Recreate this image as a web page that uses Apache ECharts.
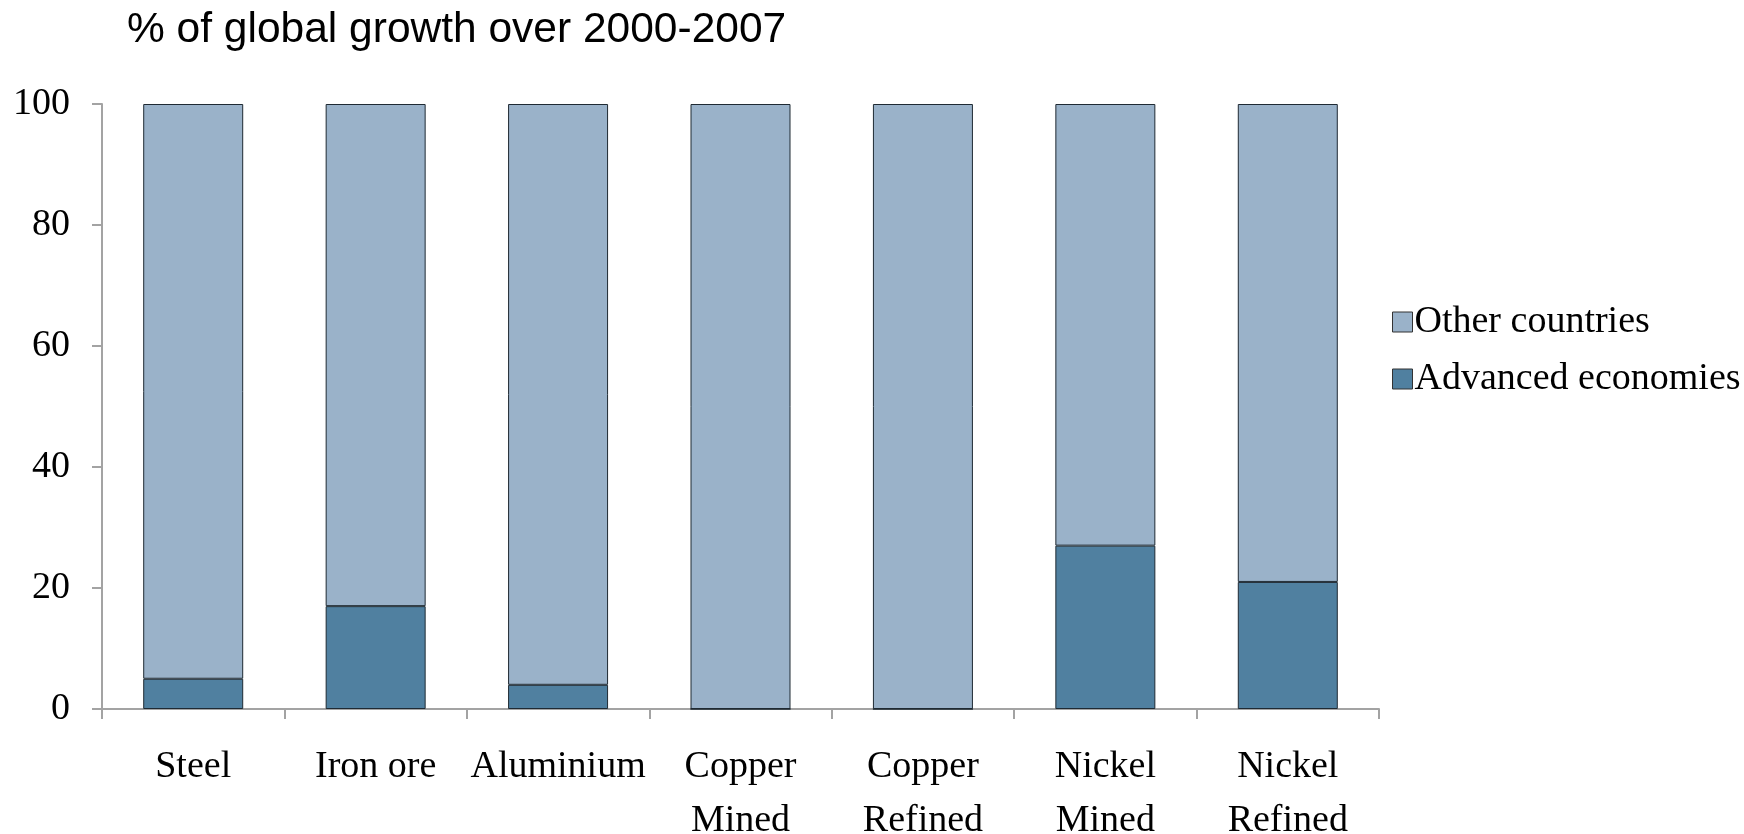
<!DOCTYPE html>
<html>
<head>
<meta charset="utf-8">
<title>% of global growth over 2000-2007</title>
<script src="https://cdn.jsdelivr.net/npm/echarts@6/dist/echarts.min.js"></script>
<style>
  html, body { margin: 0; padding: 0; background: #ffffff; }
  #chart { width: 1744px; height: 834px; }
</style>
</head>
<body>
<div id="chart"></div>
<script>
// Commodities on the horizontal axis
const categories = ['Steel', 'Iron ore', 'Aluminium', 'Copper\nMined', 'Copper\nRefined', 'Nickel\nMined', 'Nickel\nRefined'];
// Share of global growth, per cent
const advancedEconomies = [5, 17, 4, 0, 0, 27, 21];
const otherCountries = [95, 83, 96, 100, 100, 73, 79];
// Vertical axis ticks
const yTicks = [0, 20, 40, 60, 80, 100];

const serif = "'Liberation Serif', 'Times New Roman', serif";
const sans = "'Liberation Sans', Arial, sans-serif";
const axisGray = '#a3a3a3';

const chart = echarts.init(document.getElementById('chart'), null, { renderer: 'canvas' });

chart.setOption({
  animation: false,
  backgroundColor: '#ffffff',
  title: {
    text: '% of global growth over 2000-2007',
    left: 122,
    top: 4,
    textStyle: { fontFamily: sans, fontSize: 42.5, fontWeight: 'normal', color: '#000000' }
  },
  legend: {
    orient: 'vertical',
    left: 1392,
    top: 302,
    padding: 0,
    itemWidth: 20,
    itemHeight: 20,
    itemGap: 17,
    icon: 'rect',
    data: ['Other countries', 'Advanced economies'],
    itemStyle: { borderColor: '#333333', borderWidth: 1 },
    textStyle: { fontFamily: serif, fontSize: 38, color: '#000000', lineHeight: 40, padding: [0, 0, 0, -3] }
  },
  grid: { left: 102, right: 365, top: 104, bottom: 125, containLabel: false, outerBoundsMode: 'none' },
  xAxis: {
    type: 'category',
    data: categories,
    axisLine: { lineStyle: { color: axisGray, width: 2 } },
    axisTick: { show: true, length: 10, lineStyle: { color: axisGray, width: 2 } },
    axisLabel: {
      interval: 0,
      margin: 31,
      fontFamily: serif,
      fontSize: 38,
      lineHeight: 54,
      color: '#000000'
    }
  },
  yAxis: {
    type: 'value',
    min: yTicks[0],
    max: yTicks[yTicks.length - 1],
    interval: yTicks[1] - yTicks[0],
    splitLine: { show: false },
    axisLine: { show: true, lineStyle: { color: axisGray, width: 2 } },
    axisTick: { show: true, length: 10, lineStyle: { color: axisGray, width: 2 } },
    axisLabel: { margin: 32, fontFamily: serif, fontSize: 38, color: '#000000' }
  },
  series: [
    {
      name: 'Advanced economies',
      type: 'bar',
      stack: 'share',
      barWidth: 100,
      data: advancedEconomies,
      itemStyle: { color: '#5080a0', borderColor: '#1f2a33', borderWidth: 1 }
    },
    {
      name: 'Other countries',
      type: 'bar',
      stack: 'share',
      barWidth: 100,
      data: otherCountries,
      itemStyle: { color: '#9ab2c9', borderColor: '#1f2a33', borderWidth: 1 }
    }
  ]
});
</script>
</body>
</html>
